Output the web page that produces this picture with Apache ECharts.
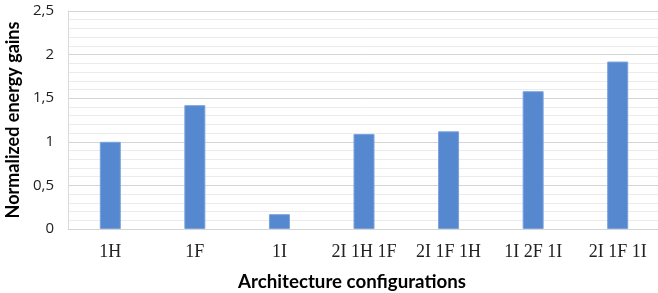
<!DOCTYPE html>
<html lang="en">
<head>
    <meta charset="UTF-8">
    <title>Normalized energy gains</title>
    <script src="https://cdn.jsdelivr.net/npm/echarts@6/dist/echarts.min.js"></script>
    <style>
        html, body { margin: 0; padding: 0; background: #fff; }
    </style>
</head>
<body>

<div style="height: 293px;width: 658px" id="chartBox"></div>

<script type="text/javascript">
    // data
    var categories = ['1H', '1F', '1I', '2I 1H 1F', '2I 1F 1H', '1I 2F 1I', '2I 1F 1I'];
    var gains = [1.0, 1.42, 0.17, 1.09, 1.12, 1.58, 1.92];
    var yTicks = [0, 0.5, 1, 1.5, 2, 2.5];

    var myChart = echarts.init(document.getElementById('chartBox'));

    var option = {
        animation: false,
        grid: {
            left: 68,
            right: -2,
            top: 11,
            bottom: 64,
            outerBoundsMode: 'none'
        },
        xAxis: {
            type: 'category',
            data: categories,
            name: 'Architecture configurations',
            nameLocation: 'middle',
            nameGap: 43,
            nameTextStyle: {
                fontFamily: 'Lato',
                fontWeight: 'bold',
                fontSize: 18.7,
                color: '#000',
                padding: [0, 24, 0, 0]
            },
            axisLine: { show: true, lineStyle: { color: '#d9d9d9' } },
            axisTick: { show: false },
            axisLabel: {
                fontFamily: 'Liberation Serif',
                fontSize: 18,
                color: '#222',
                margin: 14,
                interval: 0
            }
        },
        yAxis: [
            {
                type: 'value',
                z: 2,
                min: yTicks[0],
                max: yTicks[yTicks.length - 1],
                interval: 0.5,
                name: 'Normalized energy gains',
                nameLocation: 'middle',
                nameGap: 40,
                nameTextStyle: {
                    fontFamily: 'Lato',
                    fontWeight: 'bold',
                    fontSize: 18,
                    color: '#000'
                },
                axisLine: { show: true, lineStyle: { color: '#d9d9d9' } },
                axisTick: { show: false },
                axisLabel: {
                    fontFamily: 'Open Sans',
                    fontSize: 15,
                    color: '#222',
                    margin: 14,
                    formatter: function (v) { return String(v).replace('.', ','); }
                },
                splitLine: { show: true, lineStyle: { color: '#d4d4d4', width: 1 } }
            },
            {
                // fine grid every 0.1
                type: 'value',
                z: 1,
                position: 'left',
                min: yTicks[0],
                max: yTicks[yTicks.length - 1],
                interval: 0.1,
                axisLine: { show: false },
                axisTick: { show: false },
                axisLabel: { show: false },
                splitLine: { show: true, lineStyle: { color: '#ebebeb', width: 1 } }
            }
        ],
        series: [
            {
                name: 'gains',
                type: 'bar',
                data: gains,
                barWidth: 21,
                z: 3,
                itemStyle: {
                    color: '#5588cf',
                    borderColor: '#7aa3dc',
                    borderWidth: 1
                }
            }
        ]
    };

    myChart.setOption(option);
</script>

</body>
</html>
